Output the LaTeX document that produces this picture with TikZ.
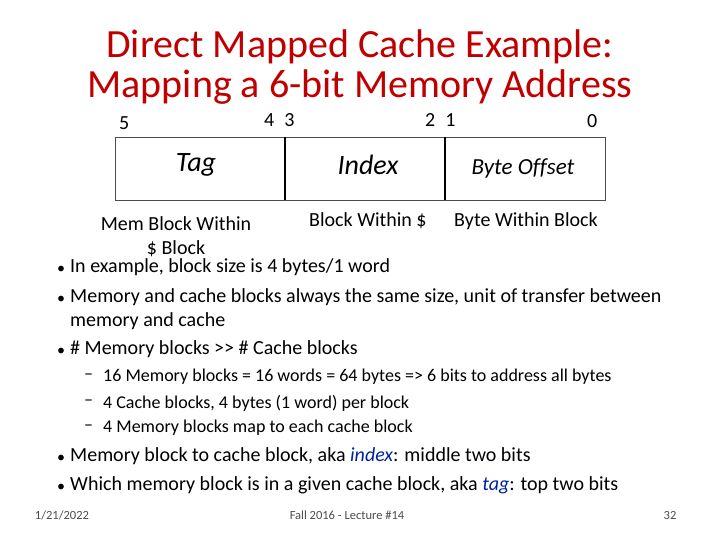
\documentclass[tikz,border=0pt]{standalone}
\usepackage{fontspec}
\setmainfont{Carlito}[Ligatures=NoCommon]
\definecolor{ttl}{RGB}{192,0,0}
\definecolor{idx}{RGB}{0,32,160}
\begin{document}
\begin{tikzpicture}[x=1pt,y=-1pt,
  lbl/.style={anchor=west,inner sep=0pt,font=\fontsize{20}{22}\selectfont},
  sub/.style={anchor=west,inner sep=0pt,font=\fontsize{18}{19}\selectfont},
  foot/.style={inner sep=0pt,font=\fontsize{12.5}{13}\selectfont,text=black!70},
  fld/.style={inner sep=0pt,font=\fontsize{28}{30}\selectfont\itshape}]
\useasboundingbox (0,0) rectangle (720,540);
\node[inner sep=0pt,text=ttl,font=\fontsize{40}{40}\selectfont,align=center] (title) at (360,67) {Direct Mapped Cache Example:\\Mapping a 6-bit Memory Address};
\node[lbl] (b5) at (119,123) {5};
\node[lbl] (b43) at (264,120) {4\hspace{10pt}3};
\node[lbl] (b21) at (425,120) {2\hspace{10pt}1};
\node[lbl] (b0) at (587,121) {0};
\draw[black!70] (115,137) rectangle (605,200);
\draw[line width=2pt] (285,137) -- (285,200);
\draw[line width=2pt] (445,137) -- (445,200);
\node[fld] (tag) at (196,165) {Tag};
\node[fld] (index) at (368,165) {Index};
\node[fld,font=\fontsize{23}{25}\selectfont\itshape] (off) at (523,168) {Byte Offset};
\node[inner sep=0pt,align=center,font=\fontsize{20}{24}\selectfont] (mbw) at (176,237) {Mem Block Within\\\$ Block};
\node[lbl] (bw) at (309,221) {Block Within \$};
\node[lbl] (byw) at (454,221) {Byte Within Block};
\foreach \y/\n in {267/p1,297/p2,349/p3,456/p4,485/p5}
  \node[anchor=west,inner sep=0pt,font=\fontsize{16}{16}\selectfont] (d\n) at (57,\y+3) {•};
\node[lbl] (p1) at (70,267) {In example, block size is 4 bytes/1 word};
\node[lbl] (p2) at (70,297) {Memory and cache blocks always the same size, unit of transfer between};
\node[lbl] (p2b) at (70,321) {memory and cache};
\node[lbl] (p3) at (70,349) {\# Memory blocks {>}{>} \# Cache blocks};
\foreach \y/\t [count=\i] in {377/{16 Memory blocks = 16 words = 64 bytes => 6 bits to address all bytes},403/{4 Cache blocks, 4 bytes (1 word) per block},428/{4 Memory blocks map to each cache block}}{
  \node[sub] (s\i d) at (84,\y) {–};
  \node[sub] (s\i) at (103,\y) {\t};}
\node[lbl] (p4) at (70,456) {Memory block to cache block, aka \textcolor{idx}{\itshape index}: middle two bits};
\node[lbl] (p5) at (70,485) {Which memory block is in a given cache block, aka \textcolor{idx}{\itshape tag}: top two bits};
\node[foot] (f1) at (62,515) {1/21/2022};
\node[foot] (f2) at (347,515) {Fall 2016 - Lecture \#14};
\node[foot] (f3) at (670,515) {32};
\end{tikzpicture}
\end{document}
